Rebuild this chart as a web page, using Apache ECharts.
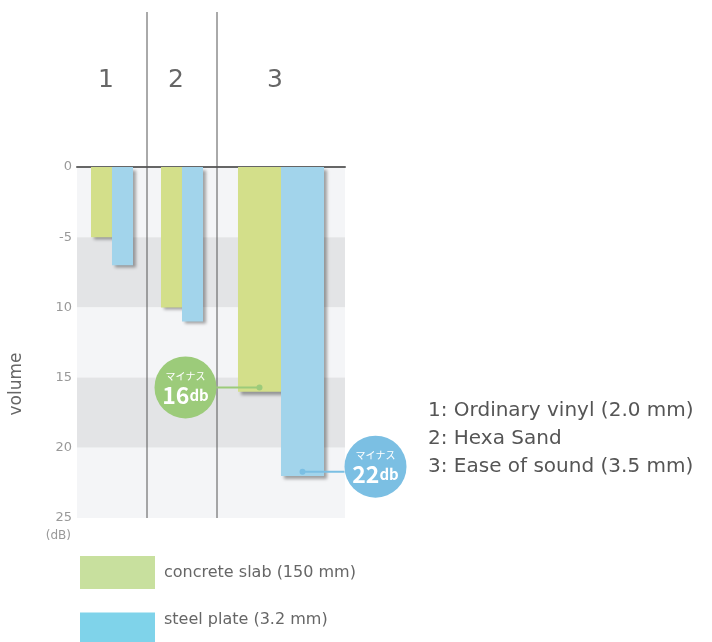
<!DOCTYPE html>
<html>
<head>
<meta charset="utf-8">
<script src="https://cdn.jsdelivr.net/npm/echarts@6/dist/echarts.min.js"></script>
<style>
  html, body { margin: 0; padding: 0; background: #fff; }
  #chart { width: 712px; height: 642px; }
</style>
</head>
<body>
<div id="chart"></div>
<script>
const categories = ["1", "2", "3"];
const concrete = [5, 10, 16];
const steel = [7, 11, 22];
const tickLabels = ["0", "-5", "10", "15", "20", "25"];
const seriesNames = ["concrete slab (150 mm)", "steel plate (3.2 mm)"];
const notes = ["1: Ordinary vinyl (2.0 mm)", "2: Hexa Sand", "3: Ease of sound (3.5 mm)"];

const font = "'DejaVu Sans', sans-serif";
const jpFont = "'Noto Sans CJK JP', sans-serif";
const barGreen = "#d3df8a";
const barBlue = "#a2d4eb";
const shadow = {
  shadowColor: "rgba(0,0,0,0.35)",
  shadowBlur: 3,
  shadowOffsetX: 3,
  shadowOffsetY: 3
};

let myChart = echarts.init(document.getElementById("chart"));

function xAxisFor(idx, data) {
  return {
    type: "category",
    gridIndex: idx,
    position: "top",
    data: data,
    axisLine: { lineStyle: { color: "#666", width: 2 } },
    axisTick: { show: false },
    axisLabel: {
      color: "#666",
      fontSize: 25,
      fontFamily: font,
      margin: 74,
      padding: [0, 12, 0, 0]
    }
  };
}

function yAxisFor(idx, showLabels) {
  return {
    type: "value",
    gridIndex: idx,
    inverse: true,
    min: 0,
    max: 25,
    interval: 5,
    name: showLabels ? "(dB)" : "",
    nameLocation: "end",
    nameGap: 12,
    nameTextStyle: { color: "#999", fontSize: 12, fontFamily: font, align: "right", padding: [0, 6, 0, 0] },
    axisLine: { show: false },
    axisTick: { show: false },
    splitLine: { show: false },
    splitArea: {
      show: true,
      areaStyle: { color: ["#f4f5f7", "#e3e4e6"] }
    },
    axisLabel: {
      show: showLabels,
      color: "#999",
      fontSize: 13,
      fontFamily: font,
      margin: 5,
      formatter: function (v) {
        return tickLabels[Math.round(v / 5)];
      }
    }
  };
}

function barSeries(name, idx, data, width, color) {
  return {
    name: name,
    type: "bar",
    xAxisIndex: idx,
    yAxisIndex: idx,
    data: data,
    barWidth: width,
    barGap: 0,
    itemStyle: Object.assign({ color: color }, shadow),
    emphasis: { disabled: true },
    z: 3
  };
}

function legendFor(name, color, top, raise) {
  return {
    orient: "vertical",
    left: 80,
    top: top,
    padding: 0,
    itemWidth: 75,
    itemHeight: 33,
    icon: "rect",
    selectedMode: false,
    formatter: raise ? "{name}\n " : "{name}",
    textStyle: { color: "#666", fontSize: 16, fontFamily: font, lineHeight: 19, padding: [0, 0, 0, 4] },
    data: [{ name: name, itemStyle: { color: color } }]
  };
}

let option = {
  animation: false,
  grid: [
    { left: 77, top: 167, width: 140, height: 351 },
    { left: 217, top: 167, width: 128, height: 351 }
  ],
  xAxis: [xAxisFor(0, categories.slice(0, 2)), xAxisFor(1, categories.slice(2))],
  yAxis: [yAxisFor(0, true), yAxisFor(1, false)],
  legend: [
    legendFor(seriesNames[0], "#c8e09e", 556, false),
    legendFor(seriesNames[1], "#7fd3ea", 610, true)
  ],
  series: [
    barSeries(seriesNames[0], 0, concrete.slice(0, 2), 21, barGreen),
    barSeries(seriesNames[1], 0, steel.slice(0, 2), 21, barBlue),
    barSeries(seriesNames[0], 1, concrete.slice(2), 43, barGreen),
    barSeries(seriesNames[1], 1, steel.slice(2), 43, barBlue)
  ]
};
myChart.setOption(option);

// decorations placed from the axes' own scales
function px(gridIndex, cat, val) {
  return myChart.convertToPixel({ gridIndex: gridIndex }, [cat, val]);
}

let c1 = px(0, "1", 0), c2 = px(0, "2", 0), bottom = px(0, "1", 25)[1];
let half = (c2[0] - c1[0]) / 2;
let graphics = [];
[c1[0] + half, c2[0] + half].forEach(function (x) {
  graphics.push({
    type: "line",
    shape: { x1: x, y1: 12, x2: x, y2: bottom },
    style: { stroke: "#555", lineWidth: 1 },
    z: 10
  });
});

function callout(value, side, dx, dy, color) {
  let p = px(1, "3", value - 0.3);
  let x = p[0] + side * 43 / 2;
  let cx = x + dx, cy = p[1] + dy;
  let edge = cx - side * 31;
  graphics.push({
    type: "line",
    shape: { x1: x, y1: p[1], x2: edge, y2: p[1] },
    style: { stroke: color, lineWidth: 2 },
    z: 20
  });
  graphics.push({
    type: "circle",
    shape: { cx: x, cy: p[1], r: 3 },
    style: { fill: color },
    z: 20
  });
  graphics.push({
    type: "circle",
    shape: { cx: cx, cy: cy, r: 31 },
    style: { fill: color },
    z: 20
  });
  graphics.push({
    type: "text",
    x: cx,
    y: cy + 1,
    style: {
      text: "{a|マイナス}\n{b|" + value + "}{c|db}",
      align: "center",
      verticalAlign: "middle",
      fill: "#fff",
      rich: {
        a: { fontSize: 10, fontFamily: jpFont, fill: "#fff", align: "center", lineHeight: 13 },
        b: { fontSize: 23, fontWeight: "bold", fontFamily: jpFont, fill: "#fff", lineHeight: 24 },
        c: { fontSize: 15, fontWeight: "bold", fontFamily: jpFont, fill: "#fff", lineHeight: 24 }
      }
    },
    z: 21
  });
}
callout(concrete[2], -1, -74, 0, "#9ccb7a");
callout(steel[2], 1, 73, -5, "#7bbfe3");

graphics.push({
  type: "text",
  x: 17,
  y: 384,
  rotation: Math.PI / 2,
  style: { text: "volume", fill: "#666", fontSize: 17, fontFamily: font, align: "center", verticalAlign: "middle" }
});
graphics.push({
  type: "text",
  x: 428,
  y: 397,
  style: { text: notes.join("\n"), fill: "#555", fontSize: 20, fontFamily: font, lineHeight: 28 }
});

myChart.setOption({ graphic: graphics });
window.onresize = function () {
  myChart.resize();
};
</script>
</body>
</html>
